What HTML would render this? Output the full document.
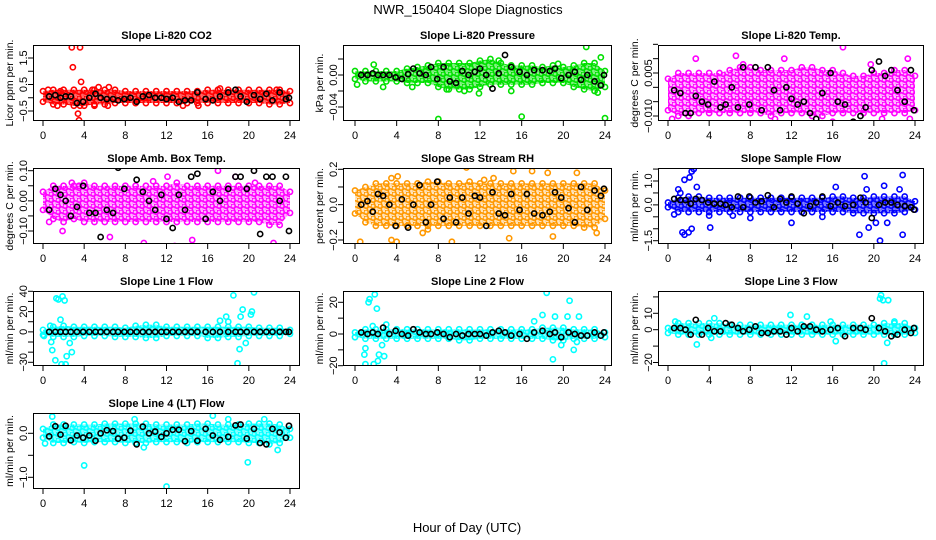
<!DOCTYPE html>
<html><head><meta charset="utf-8">
<style>
html,body{margin:0;padding:0;background:#fff;}
svg{display:block;font-family:"Liberation Sans",Arial,sans-serif;}
</style></head>
<body>
<svg id="chart" width="936" height="540" viewBox="0 0 936 540" xmlns="http://www.w3.org/2000/svg">
<defs id="defs"></defs>
<rect width="936" height="540" fill="#fff"/>
<text x="468" y="14" text-anchor="middle" font-size="13">NWR_150404  Slope Diagnostics</text>
<text x="467" y="532" text-anchor="middle" font-size="13">Hour of Day (UTC)</text>
</svg>
<script>
// ---- shared data ----
const hours = [0,1,2,3,4,5,6,7,8,9,10,11,12,13,14,15,16,17,18,19,20,21,22,23,24];
const xTicks = [0,4,8,12,16,20,24];
const blackX = [0.6,1.2,1.7,2.2,2.7,3.3,3.9,4.5,5.1,5.6,6.2,6.8,7.3,7.9,8.5,9.1,9.7,10.3,10.9,11.5,12.0,12.6,13.2,13.8,14.4,15.0,15.8,16.5,17.2,18.0,18.7,19.2,19.8,20.5,21.1,21.7,22.3,23.0,23.6,23.9];

// ---- panel 1: Li-820 CO2 ----
const p1Upper = [0.25,0.3,0.3,0.3,0.3,0.3,0.3,0.3,0.25,0.25,0.25,0.25,0.25,0.25,0.25,0.25,0.3,0.3,0.3,0.3,0.3,0.3,0.3,0.3,0.25];
const p1Lower = [-0.15,-0.25,-0.25,-0.3,-0.3,-0.25,-0.25,-0.2,-0.2,-0.2,-0.2,-0.2,-0.2,-0.2,-0.2,-0.2,-0.2,-0.2,-0.2,-0.2,-0.2,-0.2,-0.25,-0.25,-0.2];
const p1OutX = [2.8,3.6,2.9,3.7,3.4,3.5,3.6,1.4,5.0,6.3,5.4,6.4,15.1,9.2,4.8,0.5,1.7,13.6,17.2,22.7];
const p1OutY = [1.9,1.9,1.15,0.6,-0.6,-0.85,-0.3,-0.3,-0.3,-0.3,0.4,0.4,-0.3,-0.1,0.3,0.3,0.25,-0.3,0.35,0.3];
const p1Black = [0.05,0.1,0.0,0.05,0.05,-0.2,-0.15,0.0,0.15,0.0,-0.05,-0.05,-0.1,-0.05,0.0,-0.15,0.05,0.1,0.0,0.0,-0.05,0.0,-0.15,-0.1,-0.1,0.2,-0.05,-0.1,0.05,0.2,0.3,0.05,-0.15,0.1,-0.05,0.15,-0.1,0.2,-0.05,0.0];
// ---- panel 2: Pressure ----
const p2Upper = [0.005,0.005,0.005,0.005,0.005,0.008,0.01,0.012,0.015,0.015,0.015,0.015,0.018,0.02,0.015,0.012,0.012,0.012,0.01,0.012,0.01,0.012,0.015,0.015,0.005];
const p2Lower = [-0.005,-0.008,-0.008,-0.008,-0.008,-0.01,-0.01,-0.01,-0.015,-0.018,-0.018,-0.018,-0.015,-0.012,-0.012,-0.012,-0.012,-0.012,-0.01,-0.01,-0.01,-0.015,-0.018,-0.02,-0.015];
const p2OutX = [8.0,16.0,24.0,22.2,23.6,1.8,2.7,5.5,10.5,11.9,15.0,0.2,8.8,13.8,19.5,23.3];
const p2OutY = [-0.055,-0.052,-0.054,0.035,0.022,0.013,-0.015,-0.015,-0.02,-0.023,-0.02,-0.012,-0.018,0.018,0.014,-0.022];
const p2Black = [0.0,0.0,0.002,0.0,0.0,0.0,-0.003,-0.005,0.001,0.008,0.002,0.0,0.01,-0.005,0.01,-0.008,-0.01,0.005,0.0,0.004,0.008,0.0,-0.017,0.002,0.025,0.01,0.004,0.0,0.006,0.006,0.005,0.008,-0.004,0.0,0.004,-0.006,0.0,-0.008,-0.013,0.0];
// ---- panel 3: Temp ----
const p3Upper = [0.003,0.005,0.005,0.005,0.005,0.005,0.006,0.007,0.007,0.006,0.006,0.006,0.006,0.007,0.007,0.006,0.006,0.005,0.004,0.004,0.005,0.005,0.006,0.006,0.004];
const p3Lower = [-0.008,-0.01,-0.01,-0.009,-0.009,-0.009,-0.009,-0.009,-0.009,-0.009,-0.01,-0.009,-0.009,-0.009,-0.01,-0.01,-0.009,-0.009,-0.009,-0.009,-0.009,-0.009,-0.009,-0.009,-0.008];
const p3OutX = [2.7,6.6,17.0,23.3,10.4,16.0,20.8,23.5,0.4,11.3,7.3,19.7];
const p3OutY = [0.01,0.011,0.014,0.01,-0.011,-0.012,-0.011,-0.011,-0.011,0.01,0.008,0.008];
const p3Black = [-0.001,-0.002,-0.009,-0.009,-0.003,-0.005,-0.006,0.002,-0.007,-0.006,0.0,-0.007,0.007,-0.006,0.007,-0.008,0.007,-0.001,-0.008,0.0,-0.004,-0.006,-0.005,-0.009,-0.011,-0.002,0.005,-0.005,-0.006,-0.012,-0.01,-0.007,0.006,0.009,0.004,0.006,-0.001,-0.005,0.006,-0.008];
// ---- panel 4: Amb. Box Temp ----
const p4Upper = [0.03,0.05,0.05,0.05,0.06,0.05,0.05,0.05,0.05,0.05,0.05,0.05,0.05,0.06,0.05,0.05,0.05,0.05,0.05,0.05,0.05,0.05,0.05,0.05,0.03];
const p4Lower = [-0.03,-0.06,-0.07,-0.06,-0.07,-0.07,-0.07,-0.07,-0.07,-0.07,-0.07,-0.07,-0.07,-0.07,-0.07,-0.07,-0.07,-0.07,-0.07,-0.07,-0.07,-0.07,-0.08,-0.08,-0.04];
const p4OutX = [15.0,17.0,12.1,18.7,2.8,10.7,9.8,12.8,23.5,22.4,1.9,6.5,0.6,3.5,20.6,14.5];
const p4OutY = [-0.17,0.1,0.08,0.08,0.06,0.065,-0.14,-0.15,-0.18,-0.14,-0.1,-0.12,-0.07,0.05,0.06,-0.13];
const p4Black = [-0.03,0.04,0.02,0.0,-0.05,-0.02,0.05,-0.04,-0.04,-0.12,-0.03,-0.04,0.11,0.04,0.14,0.07,0.03,0.0,-0.03,0.02,-0.06,-0.09,0.02,-0.03,0.08,0.09,-0.06,0.03,0.0,0.04,0.08,0.08,0.04,0.1,-0.11,0.08,0.08,0.0,0.08,-0.1];
// ---- panel 5: Gas Stream RH ----
const p5Upper = [0.08,0.1,0.12,0.12,0.12,0.12,0.12,0.13,0.13,0.12,0.12,0.13,0.12,0.12,0.12,0.12,0.12,0.12,0.12,0.12,0.12,0.12,0.12,0.12,0.08];
const p5Lower = [-0.05,-0.1,-0.12,-0.12,-0.12,-0.12,-0.12,-0.12,-0.12,-0.12,-0.12,-0.12,-0.12,-0.12,-0.12,-0.12,-0.12,-0.12,-0.12,-0.12,-0.12,-0.12,-0.13,-0.13,-0.08];
const p5OutX = [0.5,3.5,4.0,9.3,10.7,15.2,3.5,4.1,6.5,14.8,19.0,23.2,17.0,18.5,21.3,7.0,12.4,13.3];
const p5OutY = [-0.21,-0.2,-0.21,-0.21,0.21,0.19,0.15,0.16,-0.16,-0.19,-0.18,-0.16,0.19,0.18,0.18,-0.14,0.14,0.15];
const p5Black = [0.0,0.02,-0.04,0.06,0.05,0.0,-0.12,0.03,-0.13,0.0,0.11,-0.1,0.0,0.13,-0.08,0.04,-0.1,0.04,-0.05,0.05,0.04,-0.12,0.07,-0.05,-0.06,0.06,-0.03,0.06,-0.05,-0.06,-0.04,0.07,0.04,-0.02,-0.1,0.1,-0.03,0.08,0.05,0.09];
// ---- panel 6: Sample Flow ----
const p6Upper = [0.1,0.3,0.35,0.35,0.3,0.3,0.3,0.3,0.3,0.3,0.3,0.3,0.3,0.3,0.3,0.3,0.35,0.35,0.3,0.3,0.35,0.35,0.35,0.35,0.15];
const p6Lower = [-0.1,-0.3,-0.3,-0.3,-0.3,-0.3,-0.3,-0.3,-0.3,-0.3,-0.3,-0.3,-0.3,-0.3,-0.3,-0.3,-0.3,-0.3,-0.35,-0.35,-0.35,-0.35,-0.35,-0.3,-0.2];
const p6OutX = [1.0,1.2,1.6,2.1,2.3,2.5,2.8,1.4,1.6,2.0,2.3,4.1,18.6,19.1,19.3,20.6,20.2,19.5,22.8,22.8,21.0,21.3,22.5,16.3,8.0,12.0,6.3,15.0,0.6,4.0];
const p6OutY = [0.65,0.5,1.05,1.15,1.4,1.5,0.75,-1.15,-1.25,-1.15,-1.0,-0.95,-1.25,1.2,0.65,-1.5,-0.75,-0.95,1.25,-1.25,0.8,-0.75,0.65,0.75,-0.55,-0.75,-0.45,-0.5,-0.4,-0.45];
const p6Black = [0.25,0.2,0.2,0.05,0.25,0.2,0.1,0.05,0.05,0.0,-0.1,0.35,-0.1,0.35,0.1,0.15,0.4,-0.1,0.25,0.1,0.35,0.05,-0.35,-0.05,0.1,0.35,-0.05,0.1,-0.05,0.0,0.3,0.1,-0.55,0.0,0.1,0.1,0.0,-0.05,-0.1,-0.2];
// ---- panel 7: Line 1 Flow ----
const p7Upper = [2,5,6,5,5,5,5,5,4,6,7,7,5,5,5,5,5,5,5,5,5,4,4,4,2];
const p7Lower = [-3,-5,-5,-5,-4,-4,-4,-5,-5,-5,-6,-6,-4,-4,-4,-4,-6,-6,-5,-5,-4,-4,-4,-4,-2];
const p7OutX = [1.3,1.5,1.9,2.1,1.8,2.2,0.8,0.9,1.2,2.3,2.6,2.8,1.7,0.7,18.5,19.4,19.2,18.9,19.1,20.5,20.2,20.3,17.2,17.8,18.0,19.7,0.1];
const p7OutY = [33,32,35,31,-32,-32,-10,-18,-28,-24,-11,-20,12,6,36,22,15,-31,-17,39,17,20,11,15,10,-11,-4];
const p7Black = [0,0,0,0,0,0,0,0,0,0,0,0,0,0,0,0,0,0,0,0,0,0,0,0,0,0,0,0,0,0,0,0,0,0,0,0,0,0,0,0];
// ---- panel 8: Line 2 Flow ----
const p8Upper = [1,3,3,3,3,3,3,3,3,3,3,3,3,3,3,3,3,3,4,4,4,3,3,3,1];
const p8Lower = [-2,-3,-3,-3,-3,-3,-3,-3,-3,-3,-4,-4,-3,-3,-3,-3,-3,-3,-3,-4,-4,-3,-3,-3,-2];
const p8OutX = [1.3,1.4,1.9,2.1,1.0,1.8,2.2,2.3,2.6,2.8,0.9,1.0,1.7,3.0,18.4,20.6,19.2,20.4,21.5,19.0,21.0,18.0,17.2,19.8,21.3];
const p8OutY = [20,22,25,16,-19,-19,-17,-13,-7,-14,-13,-9,5,6,26,21,11,11,11,-16,-10,12,8,-7,-5];
const p8Black = [1,0,1,0,4,0,2,0,-1,3,1,0,0,1,0,-2,0,-1,0,0,0,-1,1,2,1,-1,0,-3,1,2,0,1,-2,1,0,-1,-1,1,-1,1];
// ---- panel 9: Line 3 Flow ----
const p9Upper = [1,4,4,4,4,4,3,3,3,3,3,3,3,3,3,3,3,3,3,3,3,4,4,4,1];
const p9Lower = [-2,-3,-3,-3,-3,-3,-3,-3,-3,-3,-3,-3,-3,-3,-3,-3,-3,-3,-3,-3,-3,-3,-3,-3,-2];
const p9OutX = [20.7,20.6,21.4,20.9,21.0,2.8,4.5,11.9,13.5,16.3,21.3,15.8,4.2,0.7,22.0];
const p9OutY = [21,19,18,18,-20.5,-9,7,9,8,-7,-8,5,-5,5,5];
const p9Black = [1,1,0,-3,6,-3,1,-1,-1,4,3,1,-1,0,2,-2,-2,-1,-1,-3,1,-1,2,2,0,-1,0,1,-4,1,1,0,7,1,-1,-4,-3,0,-2,1];
// ---- panel 10: Line 4 (LT) Flow ----
const p10Upper = [0.1,0.2,0.2,0.2,0.2,0.2,0.22,0.22,0.22,0.22,0.22,0.2,0.2,0.2,0.2,0.22,0.22,0.2,0.2,0.2,0.22,0.22,0.22,0.2,0.1];
const p10Lower = [-0.1,-0.22,-0.22,-0.2,-0.22,-0.2,-0.2,-0.2,-0.22,-0.22,-0.22,-0.2,-0.2,-0.2,-0.22,-0.2,-0.2,-0.2,-0.2,-0.2,-0.22,-0.22,-0.25,-0.22,-0.1];
const p10OutX = [4.0,12.0,19.9,0.9,16.5,9.8,22.8,0.2,8.9,18.0,21.5];
const p10OutY = [-0.73,-1.21,-0.66,0.38,0.4,-0.32,-0.38,-0.23,0.32,0.32,0.32];
const p10Black = [-0.07,0.16,-0.03,0.17,-0.16,-0.05,-0.1,-0.05,-0.17,0.0,0.07,0.05,-0.12,-0.1,0.06,-0.25,0.15,0.0,0.04,-0.08,0.0,0.08,0.08,-0.18,0.05,-0.17,0.1,-0.05,-0.15,-0.08,0.18,0.2,-0.12,0.1,-0.22,-0.25,0.1,0.02,-0.1,0.17];

// ---- layout ----
const cols = [{l:33,r:300,x0:43,x24:290},{l:343,r:612,x0:355,x24:605},{l:658,r:924,x0:668,x24:915}];
const rows = [{t:45,b:121},{t:168,b:244},{t:291,b:366},{t:413,b:489}];

const panels = [
 {name:'co2',title:'Slope Li-820 CO2',ylab:'Licor ppm per min.',c:0,r:0,color:'#ff0000',dense:1,vA:1.5,pA:58,vB:-0.5,pB:111,ticks:[-0.5,0,0.5,1,1.5],labels:[-0.5,0.5,1.5],fmt:1,up:p1Upper,lo:p1Lower,ox:p1OutX,oy:p1OutY,bk:p1Black},
 {name:'pressure',title:'Slope Li-820 Pressure',ylab:'kPa per min.',c:1,r:0,color:'#00e000',dense:0.8,vA:0,pA:75,vB:-0.04,pB:107,ticks:[-0.04,-0.02,0,0.02],labels:[-0.04,0],fmt:2,up:p2Upper,lo:p2Lower,ox:p2OutX,oy:p2OutY,bk:p2Black},
 {name:'temp',title:'Slope Li-820 Temp.',ylab:'degrees C per min.',c:2,r:0,color:'#ff00ff',dense:0.45,vA:0.005,pA:73,vB:-0.010,pB:116,ticks:[-0.01,-0.005,0,0.005,0.01,0.015],labels:[-0.01,0.005],fmt:3,up:p3Upper,lo:p3Lower,ox:p3OutX,oy:p3OutY,bk:p3Black},
 {name:'amb-box-temp',title:'Slope Amb. Box Temp.',ylab:'degrees C per min.',c:0,r:1,color:'#ff00ff',dense:0.5,vA:0.1,pA:170.7,vB:-0.1,pB:231,ticks:[-0.1,-0.05,0,0.05,0.1],labels:[-0.1,0,0.1],fmt:2,up:p4Upper,lo:p4Lower,ox:p4OutX,oy:p4OutY,bk:p4Black},
 {name:'gas-stream-rh',title:'Slope Gas Stream RH',ylab:'percent per min.',c:1,r:1,color:'#ff9800',dense:0.45,vA:0.2,pA:169.3,vB:-0.2,pB:240,ticks:[-0.2,-0.1,0,0.1,0.2],labels:[-0.2,0,0.2],fmt:1,up:p5Upper,lo:p5Lower,ox:p5OutX,oy:p5OutY,bk:p5Black},
 {name:'sample-flow',title:'Slope Sample Flow',ylab:'ml/min per min.',c:2,r:1,color:'#0000ff',dense:0.85,vA:1.0,pA:181,vB:-1.5,pB:240.7,ticks:[-1.5,-1,-0.5,0,0.5,1,1.5],labels:[-1.5,0,1],fmt:1,up:p6Upper,lo:p6Lower,ox:p6OutX,oy:p6OutY,bk:p6Black},
 {name:'line1-flow',title:'Slope Line 1 Flow',ylab:'ml/min per min.',c:0,r:2,color:'#00ffff',dense:0.85,vA:40,pA:291.3,vB:-30,pB:362.3,ticks:[-30,-20,-10,0,10,20,30,40],labels:[-30,0,20,40],fmt:0,up:p7Upper,lo:p7Lower,ox:p7OutX,oy:p7OutY,bk:p7Black},
 {name:'line2-flow',title:'Slope Line 2 Flow',ylab:'ml/min per min.',c:1,r:2,color:'#00ffff',dense:0.85,vA:20,pA:302.3,vB:-20,pB:365.7,ticks:[-20,-10,0,10,20],labels:[-20,0,20],fmt:0,up:p8Upper,lo:p8Lower,ox:p8OutX,oy:p8OutY,bk:p8Black},
 {name:'line3-flow',title:'Slope Line 3 Flow',ylab:'ml/min per min.',c:2,r:2,color:'#00ffff',dense:0.85,vA:10,pA:313.3,vB:-20,pB:362.5,ticks:[-20,-10,0,10,20],labels:[-20,0,10],fmt:0,up:p9Upper,lo:p9Lower,ox:p9OutX,oy:p9OutY,bk:p9Black},
 {name:'line4-flow',title:'Slope Line 4 (LT) Flow',ylab:'ml/min per min.',c:0,r:3,color:'#00ffff',dense:0.8,vA:0,pA:433.3,vB:-1.0,pB:477.3,ticks:[-1,-0.5,0],labels:[-1,0],fmt:1,up:p10Upper,lo:p10Lower,ox:p10OutX,oy:p10OutY,bk:p10Black}
];

const NS='http://www.w3.org/2000/svg';
const svg=document.getElementById('chart');
const defs=document.getElementById('defs');
function mk(tag,attrs,parent){const e=document.createElementNS(NS,tag);for(const k in attrs)e.setAttribute(k,attrs[k]);(parent||svg).appendChild(e);return e;}

panels.forEach(p=>{
  const C=cols[p.c],R=rows[p.r];
  const xs=v=>C.x0+(C.x24-C.x0)*v/24;
  const ys=v=>p.pA+(v-p.vA)*(p.pB-p.pA)/(p.vB-p.vA);
  // speckled pattern for dense band
  const pat=mk('pattern',{id:'pat-'+p.name,width:7,height:6,patternUnits:'userSpaceOnUse'},defs);
  mk('circle',{cx:2,cy:2,r:2.2,fill:'none',stroke:p.color,'stroke-width':1.6},pat);
  mk('circle',{cx:5.5,cy:5,r:2.2,fill:'none',stroke:p.color,'stroke-width':1.6},pat);
  const g=mk('g',{});
  
  
  const clip=mk('clipPath',{id:'clip-'+p.name},g);
  mk('rect',{x:C.l,y:R.t,width:C.r-C.l,height:R.b-R.t},clip);
  const pg=mk('g',{'clip-path':'url(#clip-'+p.name+')'},g);
  let d='';
  hours.forEach((h,i)=>{d+=(i?'L':'M')+xs(h).toFixed(1)+','+ys(p.up[i]).toFixed(1);});
  for(let i=hours.length-1;i>=0;i--){d+='L'+xs(hours[i]).toFixed(1)+','+ys(p.lo[i]).toFixed(1);}
  const bandBg=mk('path',{d:d+'Z',fill:p.color,'fill-opacity':p.dense*0.6},pg);
  
  
  const band=mk('path',{d:d+'Z',fill:'url(#pat-'+p.name+')'},pg);
  
  
  hours.forEach((h,i)=>{
    [p.up[i],p.lo[i]].forEach(v=>{
      const c=mk('circle',{cx:xs(h),cy:ys(v),r:2.6,fill:'none',stroke:p.color,'stroke-width':1.6},pg);
      
      
    });
  });
  p.ox.forEach((x,i)=>{
    const c=mk('circle',{cx:xs(x),cy:ys(p.oy[i]),r:2.6,fill:'none',stroke:p.color,'stroke-width':1.6},pg);
    
    
  });
  blackX.forEach((x,i)=>{
    const c=mk('circle',{cx:xs(x),cy:ys(p.bk[i]),r:2.6,fill:'none',stroke:'#000','stroke-width':1.6},pg);
    
    
  });
  const box=mk('rect',{x:C.l+0.5,y:R.t+0.5,width:C.r-C.l-1,height:R.b-R.t-1,fill:'none',stroke:'#000','stroke-width':1},g);
  
  
  const t=mk('text',{x:(C.l+C.r)/2,y:R.t-6,'text-anchor':'middle','font-size':11,'font-weight':'bold'},g);
  t.textContent=p.title;
  
  
  xTicks.forEach(v=>{
    mk('line',{x1:xs(v),x2:xs(v),y1:R.b,y2:R.b+5,stroke:'#000'},g);
    const l=mk('text',{x:xs(v),y:R.b+18,'text-anchor':'middle','font-size':11},g);
    l.textContent=v;
    
    
  });
  p.ticks.forEach(v=>{
    const y=ys(v);
    if(y<R.t-1||y>R.b+1)return;
    mk('line',{x1:C.l-5,x2:C.l,y1:y,y2:y,stroke:'#000'},g);
  });
  p.labels.forEach(v=>{
    const y=ys(v);
    const l=mk('text',{x:C.l-9,y:y,'text-anchor':'middle','font-size':11,'dominant-baseline':'central',transform:'rotate(-90 '+(C.l-9)+' '+y+')'},g);
    l.textContent=(v<0?'\u2212':'')+Math.abs(v).toFixed(p.fmt);
    
    
  });
  const yc=(R.t+R.b)/2;
  const yl=mk('text',{x:C.l-23,y:yc,'text-anchor':'middle','font-size':10.5,'dominant-baseline':'central',transform:'rotate(-90 '+(C.l-23)+' '+yc+')'},g);
  yl.textContent=p.ylab;
  
  
});
</script>
</body></html>
